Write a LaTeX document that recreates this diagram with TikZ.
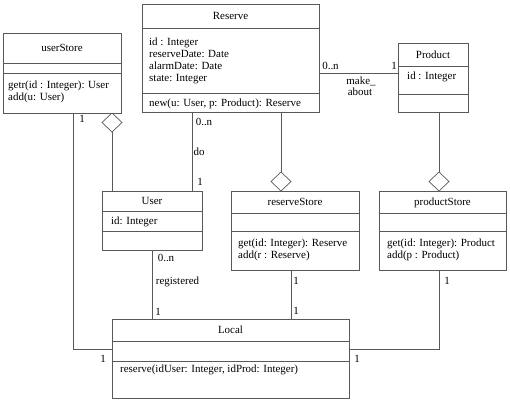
\documentclass[tikz,border=0pt]{standalone}
\usepackage{fontspec}
\setmainfont{Liberation Serif}
\usetikzlibrary{shapes.geometric,calc}
\definecolor{lc}{gray}{0.35}
\tikzset{
  cls/.style={draw=lc, line width=0.8bp, inner sep=0pt, outer sep=0pt, rectangle},
  sepline/.style={draw=lc, line width=0.8bp},
  conn/.style={draw=lc, line width=0.8bp},
  agg/.style={diamond, draw=lc, line width=0.7bp, fill=white, inner sep=0pt, outer sep=0pt, minimum width=20bp, minimum height=19bp},
  ttl/.style={font=\fontsize{11}{13}\selectfont, inner sep=0pt, anchor=base},
  txt/.style={font=\fontsize{11}{13}\selectfont, inner sep=0pt, anchor=base west},
  lbl/.style={font=\fontsize{11}{13}\selectfont, inner sep=0pt},
}
\newcommand\umlbox[7]{%
  \node[cls, minimum width={(#4-#2)*1bp}, minimum height={(#5-#3)*1bp}] (#1) at ({(#2+#4)/2},{(#3+#5)/2}) {};
  \draw[sepline] (#2,#6) -- (#4,#6);
  \draw[sepline] (#2,#7) -- (#4,#7);
}
\begin{document}
\begin{tikzpicture}[x=1bp,y=-1bp]
\useasboundingbox (0,0) rectangle (510,400);
% class boxes
\umlbox{userStore}{3}{33}{121}{113}{63}{73}
\umlbox{Reserve}{142}{4}{319}{112}{28}{93}
\umlbox{Product}{398}{43}{468}{112}{66}{94}
\umlbox{User}{102}{191}{202}{250}{211}{231}
\umlbox{reserveStore}{231}{191}{359}{270}{213}{231}
\umlbox{productStore}{379}{191}{506}{270}{213}{231}
\umlbox{Local}{112}{319}{349}{398}{341}{361}
% titles
\node[ttl] (tUserStore) at (62,51.7) {userStore};
\node[ttl] (tReserve) at (230.5,19.7) {Reserve};
\node[ttl] (tProduct) at (433,58.2) {Product};
\node[ttl] (tUser) at (152,204.7) {User};
\node[ttl] (tReserveStore) at (295,205.7) {reserveStore};
\node[ttl] (tProductStore) at (442.5,205.7) {productStore};
\node[ttl] (tLocal) at (230.5,333.7) {Local};
% members
\node[txt] (us1) at (8,88.5) {getr(id : Integer): User};
\node[txt] (us2) at (8,100.5) {add(u: User)};
\node[txt] (re1) at (149,45) {id : Integer};
\node[txt] (re2) at (149,57.3) {reserveDate: Date};
\node[txt] (re3) at (149,69.6) {alarmDate: Date};
\node[txt] (re4) at (149,81.9) {state: Integer};
\node[txt] (re5) at (149,106.5) {new(u: User, p: Product): Reserve};
\node[txt] (pr1) at (407,79.5) {id : Integer};
\node[txt] (u1) at (111,224.5) {id: Integer};
\node[txt] (rs1) at (238,246.5) {get(id: Integer): Reserve};
\node[txt] (rs2) at (238,258.5) {add(r : Reserve)};
\node[txt] (ps1) at (387,246.5) {get(id: Integer): Product};
\node[txt] (ps2) at (387,258.5) {add(p : Product)};
\node[txt] (lo1) at (120,372.5) {reserve(idUser: Integer, idProd: Integer)};
% aggregation diamonds
\node[agg, anchor=north] (dUS) at (112,113) {};
\node[agg, anchor=south] (dRS) at (281,191) {};
\node[agg, anchor=south] (dPS) at (439,191) {};
% reference coordinates for connectors
\coordinate (cDo) at (192,150);
\coordinate (cMa) at (360,73);
\coordinate (cRs) at (291,300);
\coordinate (cUs) at (73,349);
\coordinate (cPs) at (439,349);
% connectors
\draw[conn] (dUS.south) -- (dUS.south |- User.north);
\draw[conn] (cDo |- Reserve.south) -- (cDo |- User.north);
\draw[conn] (dRS.north) -- (dRS.north |- Reserve.south);
\draw[conn] (dPS.north) -- (dPS.north |- Product.south);
\draw[conn] (cMa -| Reserve.east) -- (cMa -| Product.west);
\draw[conn] (User.south) -- (User.south |- Local.north);
\draw[conn] (cRs |- reserveStore.south) -- (cRs |- Local.north);
\draw[conn] (cUs |- userStore.south) |- (cUs -| Local.west);
\draw[conn] (cPs |- productStore.south) |- (cPs -| Local.east);
% multiplicities and names
\node[lbl] (m1) at (82,119) {1};
\node[lbl] (m2) at (103,359) {1};
\node[lbl] (m3) at (204,122) {0..n};
\node[lbl] (m4) at (199,152) {do};
\node[lbl] (m5) at (200,182) {1};
\node[lbl] (m6) at (330.5,66) {0..n};
\node[lbl] (m7) at (394,66) {1};
\node[lbl] (m8) at (361,81) {make\_};
\node[lbl] (m9) at (360,92) {about};
\node[lbl] (m10) at (166,258) {0..n};
\node[lbl] (m11) at (177.5,282) {registered};
\node[lbl] (m12) at (158,312) {1};
\node[lbl] (m13) at (296,281) {1};
\node[lbl] (m14) at (296,311) {1};
\node[lbl] (m15) at (447,281) {1};
\node[lbl] (m16) at (357,359) {1};
\end{tikzpicture}
\end{document}
